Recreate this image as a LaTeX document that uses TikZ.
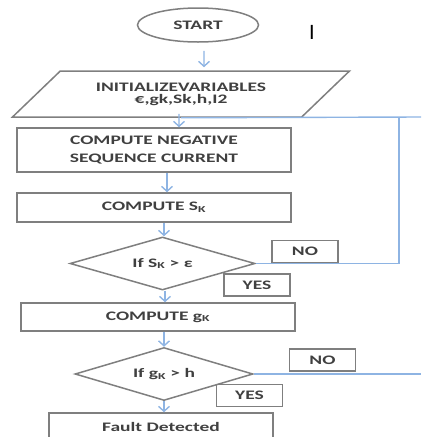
\documentclass[tikz,border=0pt]{standalone}
\usepackage{fontspec}
\setmainfont[FakeStretch=1.5]{Carlito}
\newfontfamily\plainfont{Carlito}
\usetikzlibrary{shapes.geometric,arrows.meta}
\definecolor{flowblue}{HTML}{8EB4E3}
\definecolor{edgegray}{HTML}{7F7F7F}
\definecolor{textgray}{HTML}{404040}
\begin{document}
\begin{tikzpicture}[x=1pt,y=-1pt,
    base/.style={draw=edgegray,line width=1.5pt,inner sep=0pt,text=textgray,
        font=\bfseries\fontsize{13}{18}\selectfont,align=center},
    procbox/.style={base,rectangle,minimum width=274pt,minimum height=#1},
    labelbox/.style={base,rectangle,minimum width=66pt,minimum height=22pt},
    startbox/.style={base,ellipse,minimum width=121pt,minimum height=34pt},
    inbox/.style={base,trapezium,trapezium left angle=34,trapezium right angle=146,
        trapezium stretches=true,minimum width=338pt,minimum height=46pt,
        font=\bfseries\fontsize{13}{12}\selectfont},
    testbox/.style={base,diamond,aspect=3.5,minimum width=#1,minimum height=53pt},
    flow/.style={draw=flowblue,line width=1.4pt},
    arr/.style={flow,-{Straight Barb[length=5pt,width=11pt]}}]
    \useasboundingbox (0,0) rectangle (421,437);
    \node[startbox] (start) at (198,25) {START};
    \node[text=black,font=\plainfont\fontsize{22}{22}\selectfont] (cursor) at (312,32) {I};
    \node[inbox] (init) at (181,94) {INITIALIZEVARIABLES\\€,gk,Sk,h,I2};
    \node[procbox=44pt] (neg) at (154,150) {COMPUTE NEGATIVE\\SEQUENCE CURRENT};
    \node[procbox=29pt] (sk) at (154,207.5) {COMPUTE S\textsubscript{K}};
    \node[testbox=185pt] (d1) at (162.5,263.5) {If S\textsubscript{K} > ε};
    \node[labelbox] (no1) at (305,251.5) {NO};
    \node[labelbox] (yes1) at (257,285) {YES};
    \node[procbox=28pt] (gk) at (158,317) {COMPUTE g\textsubscript{K}};
    \node[testbox=178pt] (d2) at (164,374) {If g\textsubscript{K} > h};
    \node[labelbox] (no2) at (322.5,360) {NO};
    \node[labelbox] (yes2) at (249.5,395.5) {YES};
    \node[base,rectangle,minimum width=224pt,minimum height=28pt] (fault) at (161,427) {Fault Detected};
    \coordinate (loopturn) at (399,117);
    \coordinate (loopend) at (421,117);
    \coordinate (exitend) at (421,374);
    \draw[arr] ([xshift=6pt,yshift=-8pt]start.south) -- ([xshift=23pt,yshift=3pt]init.north);
    \draw[arr] ([xshift=-2pt,yshift=4pt]init.south) -- ([xshift=25pt]neg.north);
    \draw[arr] ([xshift=13pt]neg.south) -- ([xshift=13pt]sk.north);
    \draw[arr] ([xshift=10pt]sk.south) -- ([xshift=1.5pt]d1.north);
    \draw[arr] ([xshift=2.5pt]d1.south) -- ([xshift=7pt]gk.north);
    \draw[arr] ([xshift=6pt]gk.south) -- (d2.north);
    \draw[arr] (d2.south) -- ([xshift=3pt]fault.north);
    \draw[flow] (init.south) -- (loopend);
    \draw[flow] (d1.east) -| (loopturn);
    \draw[flow] (d2.east) -- (exitend);
\end{tikzpicture}
\end{document}
